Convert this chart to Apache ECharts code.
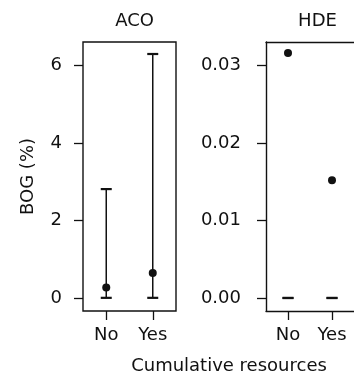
<!DOCTYPE html>
<html><head><meta charset="utf-8">
<script src="https://cdn.jsdelivr.net/npm/echarts@6/dist/echarts.min.js"></script>
<style>html,body{margin:0;padding:0;background:#fff}#c{width:354px;height:377px}</style>
</head><body><div id="c"></div>
<script>
var categories = ['No', 'Yes'];
var panelTitles = ['ACO', 'HDE'];
var xTitle = 'Cumulative resources';
var yTitle = 'BOG (%)';
var acoMean = [0.27, 0.64];
var acoLow = [0, 0];
var acoHigh = [2.81, 6.30];
var hdeMean = [0.0316, 0.0152];
var hdeLow = [0, 0];
var hdeHigh = [0, 0];
var acoTicks = [0, 2, 4, 6];
var hdeTicks = [0, 0.01, 0.02, 0.03];

var FONT = 'DejaVu Sans';
var FS = 18;
var INK = '#111';
var chart = echarts.init(document.getElementById('c'), null, {renderer: 'canvas'});

function errItem(params, api) {
  var x = api.value(0), lo = api.value(1), hi = api.value(2);
  var p1 = api.coord([x, lo]), p2 = api.coord([x, hi]);
  var hw = 5.5;
  return {type: 'group', children: [
    {type: 'line', shape: {x1: p1[0], y1: p1[1], x2: p2[0], y2: p2[1]}, style: {stroke: INK, lineWidth: 1.5}},
    {type: 'line', shape: {x1: p1[0]-hw, y1: p1[1], x2: p1[0]+hw, y2: p1[1]}, style: {stroke: INK, lineWidth: 2.2}},
    {type: 'line', shape: {x1: p2[0]-hw, y1: p2[1], x2: p2[0]+hw, y2: p2[1]}, style: {stroke: INK, lineWidth: 2.2}}
  ]};
}

var LINE = {show: true, onZero: false, lineStyle: {color: INK, width: 1.4}};
function xAx(gi, showLine) {
  return {
    type: 'category', gridIndex: gi, data: categories, position: 'bottom',
    axisLine: showLine ? LINE : {show: false, onZero: false},
    axisTick: {show: true, alignWithLabel: true, length: 9, lineStyle: {color: INK, width: 1.3}},
    axisLabel: {color: INK, fontFamily: FONT, fontSize: FS, margin: 15}
  };
}
function topAx(gi) {
  return {
    type: 'category', gridIndex: gi, data: categories, position: 'top',
    axisLine: LINE, axisTick: {show: false}, axisLabel: {show: false}
  };
}
function yAx(gi, mn, mx, ticks, fmt, name, margin, showLine) {
  return {
    type: 'value', gridIndex: gi, min: mn, max: mx, position: 'left',
    splitLine: {show: false}, axisLine: showLine ? LINE : {show: false, onZero: false},
    axisTick: {show: true, length: 9, customValues: ticks, lineStyle: {color: INK, width: 1.3}},
    axisLabel: {color: INK, fontFamily: FONT, fontSize: FS, margin: margin, customValues: ticks, formatter: fmt},
    name: name || '', nameLocation: 'middle', nameGap: 46, nameRotate: 90,
    nameTextStyle: {color: INK, fontFamily: FONT, fontSize: FS}
  };
}

function mk(means, lo, hi) {
  return {
    pts: means.map(function (v, i) { return [i, v]; }),
    err: lo.map(function (v, i) { return [i, v, hi[i]]; })
  };
}
var aco = mk(acoMean, acoLow, acoHigh);
var hde = mk(hdeMean, hdeLow, hdeHigh);

chart.setOption({
  animation: false,
  title: [
    {text: panelTitles[0], left: 129.5, top: 7, textAlign: 'center', textStyle: {color: INK, fontFamily: FONT, fontSize: FS, fontWeight: 'normal'}},
    {text: panelTitles[1], left: 312.5, top: 7, textAlign: 'center', textStyle: {color: INK, fontFamily: FONT, fontSize: FS, fontWeight: 'normal'}}
  ],
  grid: [
    {left: 83, top: 42, width: 93, height: 269, show: true, borderColor: INK, borderWidth: 1.4, backgroundColor: 'transparent'},
    {left: 266, top: 42, width: 92.5, height: 269, show: false}
  ],
  xAxis: [xAx(0, false), xAx(1, true), topAx(1)],
  yAxis: [
    yAx(0, -0.34, 6.61, acoTicks, function (v) { return String(v); }, yTitle, 21, false),
    yAx(1, -0.00168, 0.03303, hdeTicks, function (v) { return v.toFixed(2); }, '', 25, true)
  ],
  graphic: [{type: 'text', x: 229, y: 366, style: {text: xTitle, fill: INK, font: FS + 'px "DejaVu Sans"', align: 'center', verticalAlign: 'middle'}}],
  series: [
    {type: 'custom', xAxisIndex: 0, yAxisIndex: 0, renderItem: errItem, data: aco.err, z: 2},
    {type: 'scatter', xAxisIndex: 0, yAxisIndex: 0, data: aco.pts, symbolSize: 8, itemStyle: {color: INK, opacity: 1}, z: 3},
    {type: 'custom', xAxisIndex: 1, yAxisIndex: 1, renderItem: errItem, data: hde.err, z: 2},
    {type: 'scatter', xAxisIndex: 1, yAxisIndex: 1, data: hde.pts, symbolSize: 8, itemStyle: {color: INK, opacity: 1}, z: 3}
  ]
});
</script></body></html>
